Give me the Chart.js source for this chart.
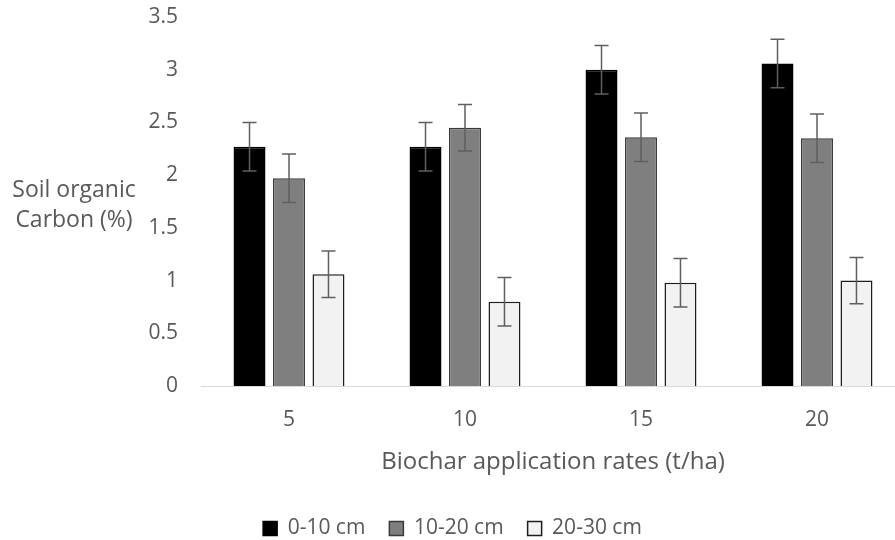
<!DOCTYPE html>
<html>
<head>
<meta charset="utf-8">
<script src="https://cdn.jsdelivr.net/npm/chart.js@4/dist/chart.umd.min.js"></script>
<style>
  html, body { margin: 0; padding: 0; background: #fff; overflow: hidden; }
  #wrap { width: 910px; height: 540px; }
</style>
</head>
<body>
<div id="wrap"><canvas id="chart" width="910" height="540"></canvas></div>
<script>
"use strict";

// data
const rates = ["5", "10", "15", "20"];
const depthLabels = ["0-10 cm", "10-20 cm", "20-30 cm"];
const soc0to10 = [2.27, 2.27, 3.00, 3.06];
const soc10to20 = [1.97, 2.45, 2.36, 2.35];
const soc20to30 = [1.06, 0.80, 0.98, 1.00];
const err0to10 = [0.23, 0.23, 0.23, 0.23];
const err10to20 = [0.23, 0.22, 0.23, 0.23];
const err20to30 = [0.22, 0.23, 0.23, 0.22];
const yTicks = [0, 0.5, 1, 1.5, 2, 2.5, 3, 3.5];

const TEXT = "#595959";
const FONT = "'Open Sans', sans-serif";

// error bars drawn on top of each bar from the y scale
const errorBars = {
  id: "errorBars",
  afterDatasetsDraw(chart) {
    const ctx = chart.ctx;
    const y = chart.scales.y;
    ctx.save();
    ctx.strokeStyle = "#5f5f5f";
    ctx.lineWidth = 1.5;
    chart.data.datasets.forEach((ds, i) => {
      const meta = chart.getDatasetMeta(i);
      meta.data.forEach((bar, j) => {
        const v = ds.data[j];
        const e = ds.errors[j];
        const top = y.getPixelForValue(v + e);
        const bot = y.getPixelForValue(v - e);
        ctx.beginPath();
        ctx.moveTo(bar.x, top);
        ctx.lineTo(bar.x, bot);
        ctx.moveTo(bar.x - 7, top);
        ctx.lineTo(bar.x + 7, top);
        ctx.moveTo(bar.x - 7, bot);
        ctx.lineTo(bar.x + 7, bot);
        ctx.stroke();
      });
    });
    ctx.restore();
  }
};

// horizontal y axis title on the left
const yTitle = {
  id: "yTitle",
  afterDraw(chart) {
    const ctx = chart.ctx;
    ctx.save();
    ctx.fillStyle = TEXT;
    ctx.font = "23px " + FONT;
    ctx.textAlign = "center";
    ctx.textBaseline = "alphabetic";
    ctx.fillText("Soil organic", 74, 197);
    ctx.fillText("Carbon (%)", 74, 227);
    ctx.restore();
  }
};

new Chart(document.getElementById("chart"), {
  type: "bar",
  data: {
    labels: rates,
    datasets: [
      {
        label: depthLabels[0],
        data: soc0to10,
        errors: err0to10,
        backgroundColor: "#000000",
        borderColor: "#000000",
        borderWidth: 1.5
      },
      {
        label: depthLabels[1],
        data: soc10to20,
        errors: err10to20,
        backgroundColor: "#7f7f7f",
        borderColor: "#3a3a3a",
        borderWidth: 1.5
      },
      {
        label: depthLabels[2],
        data: soc20to30,
        errors: err20to30,
        backgroundColor: "#f2f2f2",
        borderColor: "#1e1e1e",
        borderWidth: 1.5
      }
    ]
  },
  options: {
    responsive: false,
    animation: false,
    layout: { padding: { left: 0, right: 5, top: 17, bottom: -9 } },
    datasets: {
      bar: { barPercentage: 0.81, categoryPercentage: 0.673 }
    },
    scales: {
      x: {
        afterFit: (s) => { s.height = 108; },
        grid: { display: false, drawTicks: false },
        border: { display: true, color: "#d9d9d9", width: 1 },
        ticks: { color: TEXT, font: { family: FONT, size: 21 }, padding: 21 },
        title: {
          display: true,
          text: "Biochar application rates (t/ha)",
          color: TEXT,
          font: { family: FONT, size: 24 },
          padding: { top: 0, bottom: 17 }
        }
      },
      y: {
        min: 0,
        max: 3.5,
        afterFit: (s) => {
          s.width = 201;
          s.paddingTop = 11;
          s.paddingBottom = 0;
        },
        afterBuildTicks: (s) => { s.ticks = yTicks.map((v) => ({ value: v })); },
        grid: { display: false, drawTicks: false },
        border: { display: false },
        ticks: {
          color: TEXT,
          font: { family: FONT, size: 21 },
          padding: 23,
          callback: (v) => String(v)
        }
      }
    },
    plugins: {
      legend: {
        position: "bottom",
        labels: {
          color: TEXT,
          font: { family: FONT, size: 21 },
          boxWidth: 14,
          boxHeight: 14,
          padding: 24
        }
      },
      tooltip: { enabled: false }
    }
  },
  plugins: [errorBars, yTitle]
});
</script>
</body>
</html>
